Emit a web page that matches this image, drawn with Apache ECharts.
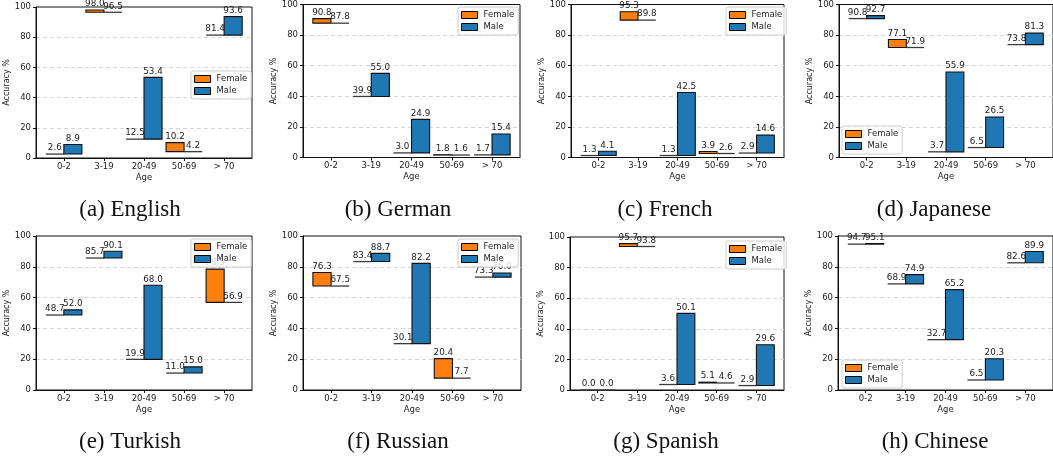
<!DOCTYPE html>
<html>
<head>
<meta charset="utf-8">
<script src="https://cdn.jsdelivr.net/npm/echarts@6/dist/echarts.min.js"></script>
<style>
  html, body { margin: 0; padding: 0; background: #fff; }
  #chart { width: 1053px; height: 459px; }
</style>
</head>
<body>
<div id="chart"></div>
<script>
// ---- data ----
const categories = ['0-2', '3-19', '20-49', '50-69', '> 70'];
const seriesNames = ['Female', 'Male'];
const yTicks = [0, 20, 40, 60, 80, 100];
const captions = ['(a) English', '(b) German', '(c) French', '(d) Japanese',
                  '(e) Turkish', '(f) Russian', '(g) Spanish', '(h) Chinese'];

const englishFemale  = [2.6, 98.0, 12.5, 10.2, 81.4];
const englishMale    = [8.9, 96.5, 53.4, 4.2, 93.6];
const germanFemale   = [90.8, 39.9, 3.0, 1.8, 1.7];
const germanMale     = [87.8, 55.0, 24.9, 1.6, 15.4];
const frenchFemale   = [1.3, 95.3, 1.3, 3.9, 2.9];
const frenchMale     = [4.1, 89.8, 42.5, 2.6, 14.6];
const japaneseFemale = [90.8, 77.1, 3.7, 6.5, 73.8];
const japaneseMale   = [92.7, 71.9, 55.9, 26.5, 81.3];
const turkishFemale  = [48.7, 85.7, 19.9, 11.0, 78.5];
const turkishMale    = [52.0, 90.1, 68.0, 15.0, 56.9];
const russianFemale  = [76.3, 83.4, 30.1, 20.4, 73.3];
const russianMale    = [67.5, 88.7, 82.2, 7.7, 76.0];
const spanishFemale  = [0.0, 95.7, 3.6, 5.1, 2.9];
const spanishMale    = [0.0, 93.8, 50.1, 4.6, 29.6];
const chineseFemale  = [94.7, 68.9, 32.7, 6.5, 82.6];
const chineseMale    = [95.1, 74.9, 65.2, 20.3, 89.9];

const panelData = [
  [englishFemale, englishMale], [germanFemale, germanMale],
  [frenchFemale, frenchMale], [japaneseFemale, japaneseMale],
  [turkishFemale, turkishMale], [russianFemale, russianMale],
  [spanishFemale, spanishMale], [chineseFemale, chineseMale]
];

// ---- layout (px) ----
const grids = [
  {left: 36,  top: 7,   width: 216, height: 151},
  {left: 303, top: 3.5, width: 217, height: 154},
  {left: 571, top: 3.5, width: 213, height: 154},
  {left: 839, top: 3.5, width: 216, height: 154},
  {left: 36,  top: 236, width: 216, height: 154},
  {left: 303, top: 236, width: 218, height: 154},
  {left: 570, top: 237, width: 214, height: 153},
  {left: 838, top: 236, width: 216, height: 154}
];
const legendPos = [
  {left: 191, top: 71}, {left: 458, top: 7}, {left: 726, top: 7}, {left: 842, top: 126},
  {left: 191, top: 239}, {left: 458, top: 239}, {left: 726, top: 241}, {left: 842, top: 360}
];
const captionPos = [
  [130, 210], [398, 210], [665, 210], [934, 210],
  [130, 442], [398, 442], [666, 442], [935, 442]
];

const COLORS = {Female: '#ff7f0e', Male: '#1f77b4'};
const TXT = '#222';
const FONT = '"DejaVu Sans", sans-serif';
const BAR_W = 0.45;

function makeRender(isFemale) {
  return function (params, api) {
    const cat = api.value(0), lo = api.value(1), v = api.value(2);
    const w = api.size([BAR_W, 0])[0];
    const top = api.coord([cat, v]);
    const bot = api.coord([cat, lo]);
    const cx = top[0] + (isFemale ? -w / 2 : w / 2);
    const children = [];
    if (v > lo) {
      children.push({
        type: 'rect',
        shape: {x: cx - w / 2, y: top[1], width: w, height: bot[1] - top[1]},
        style: {fill: isFemale ? COLORS.Female : COLORS.Male, stroke: '#111', lineWidth: 1.1}
      });
    } else {
      children.push({
        type: 'line',
        shape: {x1: cx - w / 2, y1: bot[1], x2: cx + w / 2, y2: bot[1]},
        style: {stroke: '#3a3a3a', lineWidth: 1.3}
      });
    }
    children.push({
      type: 'text',
      style: {
        text: v.toFixed(1), x: cx, y: top[1] - 1.5,
        align: 'center', verticalAlign: 'bottom',
        font: '8.8px ' + FONT, fill: TXT
      }
    });
    return {type: 'group', children: children};
  };
}

const option = {
  animation: false,
  backgroundColor: '#fff',
  grid: [], xAxis: [], yAxis: [], series: [], legend: [], graphic: []
};

panelData.forEach(function (pair, p) {
  const g = grids[p];
  option.grid.push({
    left: g.left, top: g.top, width: g.width, height: g.height,
    show: true, borderColor: '#111', borderWidth: 1, backgroundColor: 'transparent'
  });
  option.xAxis.push({
    type: 'value', gridIndex: p, min: -0.695, max: 4.695,
    name: 'Age', nameLocation: 'middle', nameGap: 15,
    nameTextStyle: {fontSize: 8.5, color: TXT, fontFamily: FONT},
    axisLine: {show: true, onZero: false, lineStyle: {color: '#111', width: 1}},
    axisTick: {show: true, length: 3, customValues: categories.map(function (c, i) { return i; }),
               lineStyle: {color: '#111'}},
    axisLabel: {show: true, margin: 4, fontSize: 8.5, color: TXT, fontFamily: FONT,
                customValues: categories.map(function (c, i) { return i; }),
                formatter: function (val) { return categories[Math.round(val)]; }},
    splitLine: {show: false}
  });
  option.yAxis.push({
    type: 'value', gridIndex: p, min: 0, max: 100, interval: 20,
    name: 'Accuracy %', nameLocation: 'middle', nameGap: 17, nameRotate: 90,
    nameTextStyle: {fontSize: 8, color: TXT, fontFamily: FONT},
    axisLine: {show: true, onZero: false, lineStyle: {color: '#111', width: 1}},
    axisTick: {show: true, length: 3, lineStyle: {color: '#111'}},
    axisLabel: {show: true, margin: 5, fontSize: 8.5, color: TXT, fontFamily: FONT},
    splitLine: {show: true, showMinLine: false, showMaxLine: false,
                lineStyle: {color: '#d8d8d8', type: [4, 3], width: 1}}
  });
  seriesNames.forEach(function (name, s) {
    const vals = pair[s];
    const other = pair[1 - s];
    option.series.push({
      type: 'custom', name: name, xAxisIndex: p, yAxisIndex: p,
      itemStyle: {color: COLORS[name], borderColor: '#000', borderWidth: 1},
      renderItem: makeRender(s === 0),
      encode: {x: 0, y: [1, 2]},
      clip: false,
      data: vals.map(function (v, i) { return [i, Math.min(v, other[i]), v]; }),
      z: 3
    });
  });
  option.legend.push({
    data: seriesNames, orient: 'vertical',
    left: legendPos[p].left, top: legendPos[p].top,
    icon: 'rect', itemWidth: 16, itemHeight: 7, itemGap: 2,
    padding: [3, 4, 3, 3],
    backgroundColor: 'rgba(255,255,255,0.8)', borderColor: '#ccc', borderWidth: 1, borderRadius: 2,
    itemStyle: {borderColor: '#000', borderWidth: 1},
    textStyle: {fontSize: 8.5, color: TXT, fontFamily: FONT, lineHeight: 10, padding: [0, 0, 0, 1]},
    selectedMode: false, z: 10
  });
  option.graphic.push({
    type: 'text', x: captionPos[p][0], y: captionPos[p][1],
    style: {text: captions[p], align: 'center', verticalAlign: 'middle',
            font: '23px "Liberation Serif", "Times New Roman", serif', fill: '#111'}
  });
});

const chart = echarts.init(document.getElementById('chart'), null, {renderer: 'canvas'});
chart.setOption(option);
</script>
</body>
</html>
